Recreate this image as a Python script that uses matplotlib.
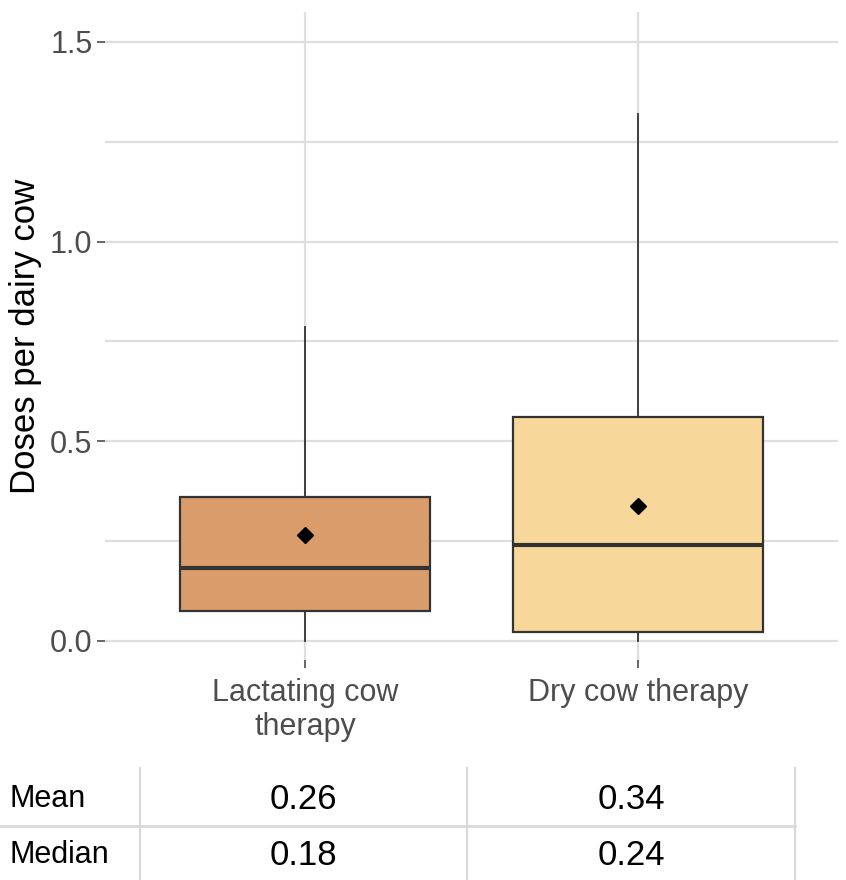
import matplotlib
matplotlib.use("Agg")
import matplotlib.pyplot as plt
import numpy as np

plt.rcParams['font.family'] = ['Liberation Sans', 'DejaVu Sans']

# data
kategorien = ["Lactating cow\ntherapy", "Dry cow therapy"]
q1 = [0.075, 0.023]
median = [0.183, 0.240]
q3 = [0.360, 0.561]
whisker_lo = [0.0, 0.0]
whisker_hi = [0.786, 1.320]
mittel = [0.265, 0.338]
farben = ["#DA9C6B", "#F8D79B"]

tabelle_zeilen = ["Mean", "Median"]
tabelle_werte = [["0.26", "0.34"], ["0.18", "0.24"]]

W, H = 846, 880
fig = plt.figure(figsize=(W / 100, H / 100), dpi=100)

# Hauptplot
ax = fig.add_axes([105 / W, 1 - 660 / H, (838 - 105) / W, (660 - 12) / H])
pos = np.arange(1, len(kategorien) + 1)
stats = []
for i in range(len(kategorien)):
    stats.append(dict(q1=q1[i], med=median[i], q3=q3[i], whislo=whisker_lo[i],
                      whishi=whisker_hi[i], mean=mittel[i], fliers=[]))

bp = ax.bxp(stats, positions=pos, widths=0.75, patch_artist=True, showmeans=True,
            showcaps=False,
            boxprops=dict(edgecolor="#333333", linewidth=1.6),
            whiskerprops=dict(color="#333333", linewidth=1.3),
            medianprops=dict(color="#333333", linewidth=3),
            meanprops=dict(marker="D", markerfacecolor="black", markeredgecolor="black",
                           markersize=8))
for patch, f in zip(bp["boxes"], farben):
    patch.set_facecolor(f)
    patch.set_zorder(2)

ax.set_xlim(0.4, 2.6)
ax.set_ylim(-0.048, 1.575)
ax.set_yticks([0.0, 0.5, 1.0, 1.5])
ax.set_yticklabels(["0.0", "0.5", "1.0", "1.5"])
ax.set_yticks([0.25, 0.75, 1.25], minor=True)
ax.set_xticks(pos)
ax.set_xticklabels(kategorien, linespacing=1.15)
ax.tick_params(axis="both", which="major", labelsize=22, colors="#4D4D4D",
               length=6, width=1.2, pad=3)
ax.tick_params(axis="x", labelsize=22, pad=7)
ax.tick_params(axis="y", which="minor", length=0)
ax.grid(True, which="both", color="#DEDEDE", linewidth=1.6)
ax.set_axisbelow(True)
for s in ax.spines.values():
    s.set_visible(False)
ax.set_ylabel("Doses per dairy cow", fontsize=25, color="black", labelpad=6)

# Tabelle unten
tab = fig.add_axes([0, 0, 1, 140 / H])
tab.set_xlim(0, W)
tab.set_ylim(880, 740)
tab.axis("off")
spalten_grenzen = [140, 467, 795]
zeile_mitte = [799, 855]
for x in spalten_grenzen:
    tab.plot([x, x], [768, 880], color="#D9D9D9", linewidth=1.6)
tab.plot([0, spalten_grenzen[-1]], [826, 826], color="#D9D9D9", linewidth=2)
for r, name in enumerate(tabelle_zeilen):
    tab.text(10, zeile_mitte[r], name, fontsize=22, ha="left", va="center")
    for c, wert in enumerate(tabelle_werte[r]):
        xm = (spalten_grenzen[c] + spalten_grenzen[c + 1]) / 2
        tab.text(xm, zeile_mitte[r], wert, fontsize=25, ha="center", va="center")

fig.savefig("out.png", dpi=100)
